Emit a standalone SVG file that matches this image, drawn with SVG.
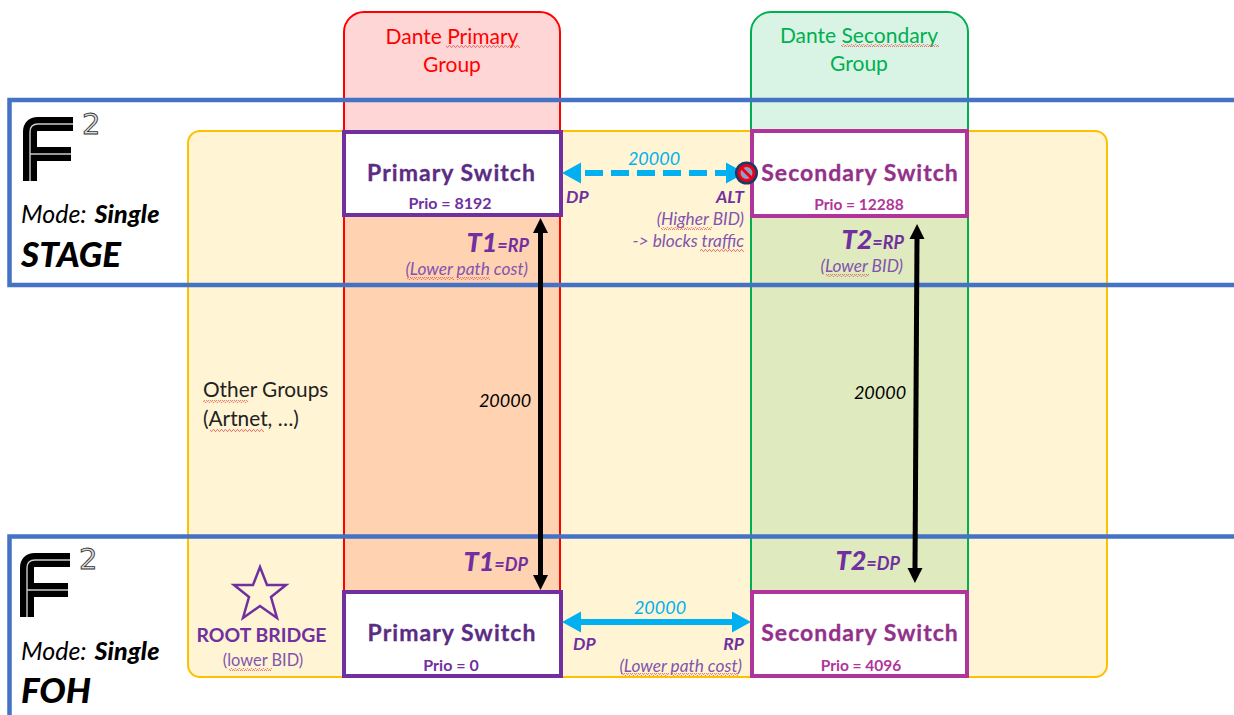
<svg xmlns="http://www.w3.org/2000/svg" width="1234" height="715" viewBox="0 0 1234 715">
<style>
text{font-family:"Lato","Liberation Sans",sans-serif}
.frame{fill:none;stroke:#4472C4;stroke-width:4.5}
.sw1{fill:#fff;stroke:#7030A0;stroke-width:4}
.sw2{fill:#fff;stroke:#B0359A;stroke-width:4}
.t1{font-size:23px;font-weight:700;fill:#5B2C83;stroke:#5B2C83;stroke-width:.3;letter-spacing:1.05px;text-anchor:middle}
.t2{font-size:23px;font-weight:700;fill:#93308A;stroke:#93308A;stroke-width:.3;letter-spacing:1px;text-anchor:middle}
.p1{font-size:16px;font-weight:700;fill:#7030A0;text-anchor:middle}
.p2{font-size:15.5px;font-weight:700;fill:#B0359A;text-anchor:middle}
.port{font-size:17.500px;font-weight:700;font-style:italic;fill:#7030A0}
.note{font-size:17.300px;font-style:italic;fill:#8254AE;text-anchor:end}
.big{font-size:27px;font-weight:900;font-style:italic;fill:#7030A0}
.sub{font-size:18px;font-weight:700;font-style:italic;fill:#7030A0}
.cost{font-size:18px;font-style:italic;fill:#000}
.blue{font-size:18px;font-style:italic;fill:#00B0F0}
.mode{font-size:25px;font-style:italic;fill:#000}
.site{font-size:35px;font-weight:900;font-style:italic;fill:#000}
.grp{font-size:21px;text-anchor:middle}
.other{font-size:20.800px;fill:#222}
.sup{font-size:29px;font-family:"DejaVu Sans",sans-serif;fill:#ddd;stroke:#333;stroke-width:.9}
.squig{fill:url(#wave)}
.arrow{fill:none;stroke:#000;stroke-width:5}
.link{fill:none;stroke:#00B0F0;stroke-width:6}
</style>
<defs>
<pattern id="wave" width="4" height="3" patternUnits="userSpaceOnUse"><path d="M0 2.4 L1 .6 L2 .6 L3 2.4 L4 2.4" fill="none" stroke="#E0605A" stroke-width=".8"/></pattern>
<marker id="ah" markerUnits="userSpaceOnUse" markerWidth="15" markerHeight="16" refX="0" refY="8" orient="auto-start-reverse"><path d="M0 0.5L15 8L0 15.500Z" fill="#000"/></marker>
<marker id="bh" markerUnits="userSpaceOnUse" markerWidth="19" markerHeight="22" refX="0" refY="11" orient="auto-start-reverse"><path d="M0 0.500L19 11L0 21.500Z" fill="#00B0F0"/></marker>
<g id="logoF"><path d="M30 64V15Q30 7 38 7H73M30 37H71" fill="none" stroke="#000" stroke-width="14"/><path d="M30 64V15Q30 7 38 7H73M30 37H71" fill="none" stroke="#ccc" stroke-width="1.400"/></g>
</defs>
<rect width="1234" height="715" fill="#fff"/>
<rect x="344" y="12" width="216" height="665" rx="20" fill="#FF0000" fill-opacity=".16"/>
<rect x="751" y="12" width="217" height="665" rx="20" fill="#00B050" fill-opacity=".15"/>
<g id="other-groups">
<rect x="188" y="131" width="919" height="546" rx="12" fill="#FFC000" fill-opacity=".17" stroke="#FFC000" stroke-width="2"/>
<text class="other" x="203" y="397">Other Groups</text>
<text class="other" x="203" y="426">(Artnet, …)</text>
<rect class="squig" x="203" y="400" width="45" height="3"/>
<rect class="squig" x="210" y="429" width="54" height="3"/>
</g>
<g id="dante-primary-group">
<rect x="344" y="12" width="216" height="665" rx="20" fill="none" stroke="#FF0000" stroke-width="2"/>
<text class="grp" x="452" y="44" fill="#FF0000">Dante Primary</text>
<text class="grp" x="452" y="72" fill="#FF0000">Group</text>
<rect class="squig" x="446" y="45" width="74" height="3"/>
</g>
<g id="dante-secondary-group">
<rect x="751" y="12" width="217" height="665" rx="20" fill="none" stroke="#00B050" stroke-width="2"/>
<text class="grp" x="859" y="43" fill="#00B050">Dante Secondary</text>
<text class="grp" x="859" y="71" fill="#00B050">Group</text>
<rect class="squig" x="841" y="44" width="98" height="3"/>
</g>
<g id="stage-frame">
<path class="frame" d="M1234 100H9.500V285H1234"/>
<use href="#logoF" x="0" y="117"/>
<text class="sup" x="82" y="134">2</text>
<text class="mode" x="21" y="223">Mode: <tspan font-weight="900" dx="2" letter-spacing=".2">Single</tspan></text>
<text class="site" x="21" y="267">STAGE</text>
</g>
<g id="foh-frame">
<path class="frame" d="M1234 536.500H9.500V715"/>
<use href="#logoF" x="-3" y="553"/>
<text class="sup" x="79" y="569">2</text>
<text class="mode" x="21" y="660">Mode: <tspan font-weight="900" dx="2" letter-spacing=".2">Single</tspan></text>
<text class="site" x="21" y="703">FOH</text>
</g>
<g id="stage-primary-switch">
<rect class="sw1" x="344" y="132" width="217" height="83"/>
<text class="t1" x="451.500" y="181">Primary Switch</text>
<text class="p1" x="450" y="209">Prio = 8192</text>
</g>
<g id="stage-secondary-switch">
<rect class="sw2" x="752" y="131" width="215" height="85"/>
<text class="t2" x="860" y="181">Secondary Switch</text>
<text class="p2" x="859" y="210">Prio = 12288</text>
</g>
<g id="foh-primary-switch">
<rect class="sw1" x="344" y="592" width="217" height="84"/>
<text class="t1" x="452" y="641">Primary Switch</text>
<text class="p1" x="451" y="671">Prio = 0</text>
</g>
<g id="foh-secondary-switch">
<rect class="sw2" x="752" y="592" width="215" height="84"/>
<text class="t2" x="860" y="641">Secondary Switch</text>
<text class="p2" x="861" y="671">Prio = 4096</text>
</g>
<g id="root-bridge">
<path d="M260 567L267 585H286L271 597L277 618L260 606L243 618L249 597L234 585H253Z" fill="none" stroke="#7030A0" stroke-width="2.500"/>
<text x="261.500" y="642" font-size="19.400" font-weight="700" fill="#7030A0" text-anchor="middle">ROOT BRIDGE</text>
<text x="263" y="666" font-size="16.400" fill="#8254AE" text-anchor="middle">(lower BID)</text>
<rect class="squig" x="229" y="668" width="43" height="3"/>
</g>
<g id="connectors">
<path class="arrow" d="M540.500 233V575" marker-start="url(#ah)" marker-end="url(#ah)"/>
<path class="arrow" d="M917 239L915 568" marker-start="url(#ah)" marker-end="url(#ah)"/>
<path class="link" d="M581 173H726" stroke-dasharray="18 8" stroke-dashoffset="-4" marker-start="url(#bh)" marker-end="url(#bh)"/>
<path class="link" d="M581 622H732" marker-start="url(#bh)" marker-end="url(#bh)"/>
</g>
<g id="blocked-symbol">
<circle cx="746.500" cy="173" r="11.500" fill="#1F3864"/>
<circle cx="746.500" cy="173" r="7.500" fill="#8FA0BE" stroke="#E8001C" stroke-width="3"/>
<path d="M741.500 168L751.500 178" stroke="#E8001C" stroke-width="3"/>
</g>
<g id="labels">
<text class="blue" x="654" y="165" text-anchor="middle">20000</text>
<text class="port" x="566" y="203">DP</text>
<text class="port" x="744" y="203" text-anchor="end">ALT</text>
<text class="note" x="744" y="225">(Higher BID)</text>
<text class="note" x="744" y="247">-&gt; blocks traffic</text>
<rect class="squig" x="661" y="227" width="51" height="3"/>
<rect class="squig" x="700" y="249" width="44" height="3"/>
<text x="529" y="252" text-anchor="end"><tspan class="big">T1</tspan><tspan class="sub">=RP</tspan></text>
<text class="note" x="528" y="275">(Lower path cost)</text>
<rect class="squig" x="407" y="277" width="47" height="3"/>
<rect class="squig" x="457" y="277" width="33" height="3"/>
<text x="904" y="249" text-anchor="end"><tspan class="big">T2</tspan><tspan class="sub">=RP</tspan></text>
<text class="note" x="903" y="272">(Lower BID)</text>
<rect class="squig" x="826" y="274" width="43" height="3"/>
<text class="cost" x="505" y="407" text-anchor="middle">20000</text>
<text class="cost" x="880" y="399" text-anchor="middle">20000</text>
<text x="528" y="571" text-anchor="end"><tspan class="big">T1</tspan><tspan class="sub">=DP</tspan></text>
<text x="900" y="570" text-anchor="end"><tspan class="big">T2</tspan><tspan class="sub">=DP</tspan></text>
<text class="blue" x="660" y="614" text-anchor="middle">20000</text>
<text class="port" x="573" y="650">DP</text>
<text class="port" x="744" y="650" text-anchor="end">RP</text>
<text class="note" x="742" y="672">(Lower path cost)</text>
<rect class="squig" x="622" y="673" width="47" height="3"/>
<rect class="squig" x="671" y="673" width="67" height="3"/>
</g>
</svg>
